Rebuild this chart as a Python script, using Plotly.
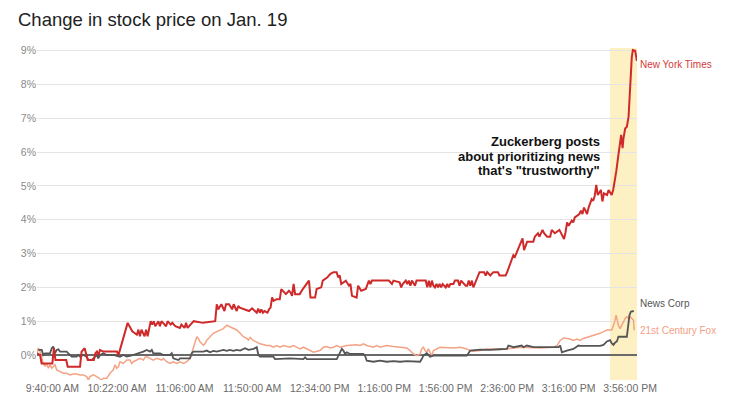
import plotly.graph_objects as go

FONT = "Liberation Sans, Arial, Helvetica, sans-serif"

title_text = "Change in stock price on Jan. 19"

# x = minutes after 9:30 AM, y = % change
nyt_points = [(0,0.05),(2,0.0),(3,-0.25),(10,-0.25),(11,0.2),(12,-0.15),(19,-0.15),(20,-0.35),(28,-0.35),(29,0.1),(31,0.2),(33,-0.15),(37,-0.15),(38,0.05),(39,0.1),(40,0.0),(41,0.15),(43,0.1),(52,0.1),(53,0.0),(54,0.15),(57,0.65),(59,0.95),(62,0.7),(64,0.65),(65,0.6),(66,0.75),(67,0.55),(68,0.75),(70,0.55),(71,0.75),(72,0.55),(74,1.0),(75,0.9),(76,1.0),(77,0.85),(79,1.0),(80,0.85),(81,1.0),(83,0.9),(84,0.85),(85,1.0),(87,0.9),(88,0.95),(90,0.85),(93,0.8),(94,0.9),(96,0.8),(97,0.95),(98,0.8),(100,0.9),(102,1.0),(108,0.95),(114,1.0),(116,1.0),(117,1.5),(118,1.35),(120,1.5),(122,1.3),(123,1.5),(125,1.5),(127,1.35),(128,1.5),(130,1.3),(131,1.45),(132,1.4),(135,1.35),(138,1.3),(140,1.38),(143,1.25),(144,1.37),(145,1.25),(146,1.35),(147,1.25),(148,1.3),(150,1.25),(151,1.35),(152,1.4),(153,1.7),(154,1.6),(156,1.65),(158,1.65),(159,1.95),(161,1.85),(162,1.8),(164,1.9),(165,1.85),(166,1.75),(167,2.1),(168,1.8),(171,1.8),(173,1.95),(176,2.15),(177,2.2),(178,1.7),(181,1.7),(182,1.95),(185,2.0),(186,2.2),(189,2.3),(191,2.4),(193,2.45),(195,2.45),(196,2.3),(197,2.35),(198,2.1),(201,2.2),(203,2.05),(204,2.1),(205,1.75),(208,1.7),(209,2.05),(211,1.9),(214,1.95),(216,2.2),(217,2.1),(218,2.2),(229,2.2),(231,2.1),(232,2.2),(236,2.15),(237,2.0),(238,2.1),(240,2.2),(241,2.1),(242,2.2),(243,2.05),(244,2.2),(246,2.05),(247,2.2),(253,2.2),(254,2.0),(255,2.2),(256,2.0),(257,2.2),(258,2.05),(259,2.0),(260,2.1),(261,2.0),(262,2.1),(263,2.0),(264,2.1),(266,2.0),(267,2.1),(268,2.0),(269,2.1),(271,2.1),(272,2.2),(274,2.2),(275,2.05),(276,2.2),(279,2.05),(280,2.05),(281,2.2),(282,2.05),(283,2.2),(284,2.0),(285,2.1),(286,2.2),(288,2.45),(291,2.45),(292,2.35),(293,2.45),(295,2.35),(297,2.45),(300,2.45),(301,2.35),(305,2.35),(306,2.45),(308,2.7),(309,2.8),(310,2.95),(311,2.9),(312,3.0),(314,3.2),(316,3.45),(317,3.1),(318,3.25),(319,3.35),(323,3.35),(324,3.5),(326,3.6),(327,3.5),(329,3.7),(330,3.6),(332,3.5),(334,3.5),(335,3.7),(337,3.6),(340,3.7),(342,3.5),(343,3.43),(344,3.63),(345,3.92),(346,3.82),(347,3.92),(348,3.97),(349,3.92),(350,4.07),(353,4.17),(354,4.27),(355,4.17),(356,4.36),(357,4.27),(358,4.17),(359,4.36),(360,4.51),(361,4.61),(362,4.56),(363,4.71),(364,5.03),(365,4.73),(367,4.88),(368,4.54),(369,4.78),(371,4.73),(372,4.88),(373,4.78),(374,4.73),(375,4.88),(376,5.13),(377,5.43),(378.4,5.92),(379.5,6.22),(380.2,6.51),(381.1,6.12),(381.7,6.41),(382.8,6.70),(383.9,6.75),(385.0,7.04),(385.6,7.63),(386.5,8.32),(387.1,8.80),(387.8,9.02),(389.3,9.0),(390.4,8.7)]

newscorp_points = [(0.8,0.15),(3.1,0.15),(4.1,0.0),(5.2,0.05),(8.5,0.05),(9.6,0.2),(10.6,0.25),(11.7,0.05),(12.8,0.15),(13.9,0.17),(15.0,0.1),(19.3,0.1),(20.4,0.05),(21.5,0.0),(22.6,-0.05),(25.8,-0.05),(26.9,0.0),(28.0,-0.05),(30.1,0.0),(32.4,-0.05),(33.4,-0.15),(35.6,-0.15),(36.7,-0.1),(37.8,-0.05),(38.9,0.0),(39.9,-0.1),(41.0,0.0),(43.2,0.05),(45.4,0.0),(49.7,0.0),(51.9,-0.03),(54.0,-0.05),(56.2,0.0),(58.4,-0.05),(60.5,-0.03),(62.7,0.0),(64.9,0.05),(67.1,0.07),(69.2,0.1),(71.4,0.15),(73.6,0.1),(74.7,0.15),(75.7,0.05),(80.1,0.05),(82.2,0.0),(86.6,0.0),(87.7,0.05),(88.7,-0.1),(92.0,-0.15),(93.1,-0.1),(99.6,-0.1),(100.7,0.05),(101.8,0.1),(108.3,0.1),(110.5,0.13),(112.6,0.08),(114.8,0.12),(117.0,0.1),(119.1,0.13),(121.3,0.15),(123.5,0.12),(125.6,0.15),(127.8,0.12),(130.0,0.15),(132.2,0.13),(135.4,0.2),(137.6,0.15),(141,0.18),(143.0,0.23),(144.1,0.0),(145.2,-0.05),(153.8,-0.05),(154.9,-0.12),(164.7,-0.1),(173.4,-0.12),(174.5,-0.07),(175.6,-0.12),(195.1,-0.12),(196.2,-0.02),(198.4,0.18),(199.4,0.13),(200.5,0.03),(201.6,0.08),(203.8,0.03),(212.4,0.03),(213.5,-0.02),(214.6,-0.17),(218.9,-0.2),(223.3,-0.17),(227.6,-0.2),(232.0,-0.18),(236.3,-0.2),(240.7,-0.18),(245.0,-0.2),(249.3,-0.2),(250.4,-0.12),(251.5,-0.02),(253.7,0.05),(254.7,0.0),(255.8,-0.05),(258.0,-0.02),(266.7,-0.02),(275.4,-0.02),(279.7,-0.02),(280.8,0.05),(281.9,0.13),(288.4,0.16),(294.9,0.15),(301.4,0.17),(305.8,0.18),(306.8,0.28),(310.1,0.23),(315.5,0.28),(316.6,0.23),(318.8,0.28),(323.1,0.23),(329.6,0.23),(339.4,0.23),(340.5,0.28),(341.6,0.08),(344.8,0.13),(349.1,0.18),(352.4,0.28),(353.5,0.27),(366.5,0.27),(368.7,0.3),(370.9,0.4),(373.0,0.44),(374.1,0.34),(375.2,0.3),(376.3,0.37),(377.4,0.4),(378.4,0.54),(380.6,0.54),(383.9,0.54),(384.3,0.69),(385.0,1.03),(385.6,1.18),(386.5,1.28),(387.8,1.3),(388.2,1.27)]

fox_points = [(0,0.05),(0.8,0.2),(2.0,0.1),(3.1,-0.1),(4.1,-0.25),(5.2,-0.34),(6.3,-0.25),(7.4,-0.39),(8.5,-0.29),(9.6,-0.39),(10.6,-0.34),(11.7,-0.29),(12.8,-0.44),(15.0,-0.49),(17.1,-0.54),(19.3,-0.54),(21.5,-0.59),(23.6,-0.56),(25.8,-0.56),(28.0,-0.59),(30.1,-0.59),(32.4,-0.64),(33.4,-0.74),(34.5,-0.64),(36.7,-0.59),(38.9,-0.64),(41.0,-0.69),(42.1,-0.74),(43.2,-0.69),(45.4,-0.69),(47.5,-0.54),(48.6,-0.49),(49.7,-0.44),(50.8,-0.29),(51.9,-0.39),(53.0,-0.34),(54.0,-0.2),(56.2,-0.25),(57.3,-0.2),(58.4,-0.15),(60.5,-0.15),(61.6,-0.25),(62.7,-0.2),(64.9,-0.15),(67.1,-0.1),(69.2,-0.15),(70.3,-0.07),(71.4,-0.05),(73.6,-0.1),(75.7,-0.15),(77.9,-0.1),(81.2,-0.15),(82.2,-0.1),(84.4,-0.2),(86.6,-0.25),(88.7,-0.2),(90.9,-0.25),(93.1,-0.2),(95.3,-0.25),(97.5,-0.2),(99.6,-0.1),(100.7,0.05),(101.8,0.2),(102.9,0.39),(104.0,0.54),(105.0,0.49),(106.1,0.39),(108.3,0.29),(109.4,0.34),(110.5,0.44),(112.6,0.54),(114.8,0.64),(117.0,0.69),(119.1,0.74),(121.3,0.78),(123.5,0.88),(125.6,0.83),(127.8,0.78),(130.0,0.74),(132.2,0.64),(134.3,0.54),(136.5,0.49),(137.6,0.44),(138.7,0.52),(140.8,0.43),(143.0,0.38),(145.2,0.33),(149.5,0.28),(151.7,0.28),(153.8,0.23),(156.0,0.28),(158.2,0.23),(160.3,0.28),(164.7,0.23),(166.9,0.28),(169.0,0.23),(171.2,0.18),(173.4,0.23),(175.6,0.18),(177.7,0.13),(179.9,0.08),(184.2,0.13),(186.4,0.23),(188.6,0.25),(190.7,0.21),(192.9,0.23),(195.1,0.28),(197.3,0.23),(201.6,0.28),(208.1,0.3),(210.3,0.28),(212.4,0.33),(214.6,0.28),(218.9,0.23),(221.1,0.28),(223.3,0.23),(227.6,0.28),(232.0,0.25),(236.3,0.23),(240.7,0.21),(242.8,0.13),(245.0,0.03),(247.2,-0.02),(249.3,0.03),(250.4,0.18),(251.5,0.23),(252.6,0.13),(253.7,0.08),(254.7,0.18),(255.8,0.08),(256.9,-0.02),(258.0,0.13),(260.2,0.18),(262.3,0.23),(271.0,0.21),(275.4,0.23),(279.7,0.18),(281.9,0.13),(284.0,0.11),(288.4,0.13),(292.7,0.18),(305.8,0.18),(314.5,0.23),(327.5,0.21),(336.3,0.23),(338.5,0.28),(340.5,0.43),(342.7,0.5),(347.0,0.47),(349.1,0.43),(351.3,0.47),(353.5,0.43),(355.6,0.49),(357.8,0.52),(362.1,0.56),(364.3,0.59),(366.5,0.64),(368.7,0.69),(370.9,0.74),(374.1,0.74),(375.2,0.88),(376.3,1.03),(376.9,1.18),(377.8,0.98),(378.4,0.88),(379.5,0.78),(380.6,0.88),(381.7,0.98),(382.8,1.08),(383.9,1.13),(385.0,1.08),(386.1,1.13),(387.2,1.08),(388.2,1.03),(388.7,0.73)]

series_names = ["21st Century Fox", "News Corp", "New York Times"]
series_points = [fox_points, newscorp_points, nyt_points]
series_colors = ["#f4a385", "#555555", "#cf2a2a"]
series_widths = [1.5, 1.8, 2.0]
label_colors = ["#f29f86", "#555555", "#d23a3a"]
label_y = [0.71, 1.53, 8.6]

tick_minutes = [10, 52, 96, 140, 184, 226, 266, 306, 346, 386]
tick_labels = ["9:40:00 AM", "10:22:00 AM", "11:06:00 AM", "11:50:00 AM", "12:34:00 PM",
               "1:16:00 PM", "1:56:00 PM", "2:36:00 PM", "3:16:00 PM", "3:56:00 PM"]
y_ticks = list(range(0, 10))
y_tick_labels = [f"{v}%" for v in y_ticks]

highlight_start = 373.0   # minute the Zuckerberg post window begins
note_lines = ["Zuckerberg posts", "about prioritizing news", "that's \"trustworthy\""]
note_y = [6.30, 5.88, 5.46]
note_x = 367.8

x_range = [0, 390.5]
y_range = [-0.74, 9.08]

# the page body adds an 8px offset, so the figure is 740x400
W, H = 740, 400

fig = go.Figure()

fig.add_shape(type="rect", xref="x", yref="y", x0=highlight_start, x1=x_range[1],
              y0=y_range[0], y1=y_range[1], fillcolor="#fdf0c2", line_width=0, layer="below")

for name, pts, col, w in zip(series_names, series_points, series_colors, series_widths):
    fig.add_trace(go.Scatter(x=[p[0] for p in pts], y=[p[1] for p in pts], mode="lines",
                             name=name, line=dict(color=col, width=w), hoverinfo="skip"))

for name, col, yv in zip(series_names, label_colors, label_y):
    fig.add_annotation(xref="paper", yref="y", x=1, y=yv, xshift=1, text=name, showarrow=False,
                       xanchor="left", yanchor="middle", font=dict(family=FONT, size=10, color=col))

for line, yv in zip(note_lines, note_y):
    fig.add_annotation(xref="x", yref="y", x=note_x, y=yv, text=f"<b>{line}</b>", showarrow=False,
                       xanchor="right", yanchor="middle", align="right",
                       font=dict(family=FONT, size=13, color="#111111"))

fig.update_layout(
    width=W, height=H, autosize=False,
    margin=dict(l=29, r=111, t=40, b=28, pad=0),
    paper_bgcolor="white", plot_bgcolor="white",
    showlegend=False,
    title=dict(text=title_text, xref="container", yref="container", x=10/W, y=1-12/H,
               xanchor="left", yanchor="middle", font=dict(family=FONT, size=18.5, color="#222222")),
    xaxis=dict(range=x_range, tickmode="array", tickvals=tick_minutes, ticktext=tick_labels,
               showgrid=False, zeroline=False, showline=False, ticks="",
               tickfont=dict(family=FONT, size=10.5, color="#6b6b6b")),
    yaxis=dict(range=y_range, tickmode="array", tickvals=y_ticks, ticktext=y_tick_labels,
               showgrid=True, gridcolor="#e4e4e4", gridwidth=1,
               zeroline=True, zerolinecolor="#6a6a6a", zerolinewidth=2,
               showline=False, ticks="",
               tickfont=dict(family=FONT, size=10.5, color="#8a8a8a")),
)

fig.write_html("out.html")
